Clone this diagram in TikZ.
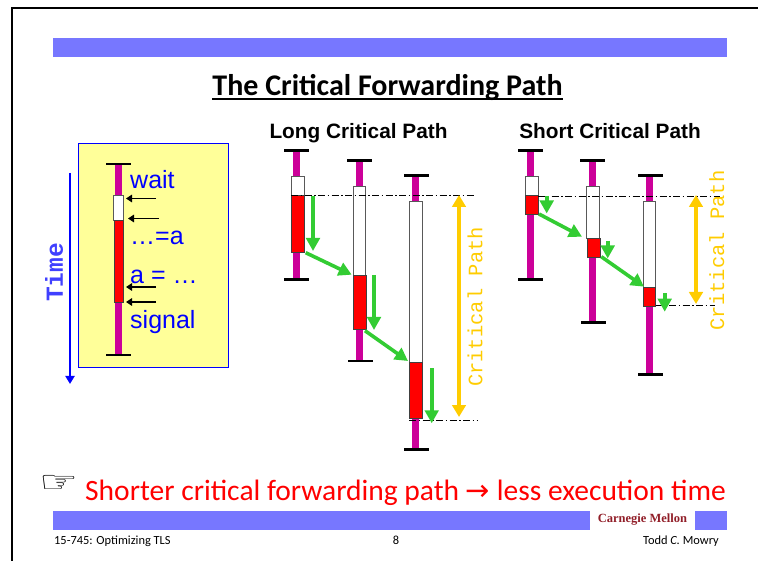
\documentclass[tikz,border=0pt]{standalone}
\usepackage{fontspec}
\setmainfont{Liberation Sans}
\newfontfamily\comicfont{Carlito}
\newfontfamily\typefont{Liberation Mono}
\newfontfamily\timesfont{Liberation Serif}
\newfontfamily\symbfont{DejaVu Sans}
\usetikzlibrary{arrows.meta}
\definecolor{barblue}{RGB}{119,119,255}
\definecolor{threadmag}{RGB}{204,0,153}
\definecolor{notepad}{RGB}{255,255,153}
\definecolor{pathgold}{RGB}{255,204,0}
\definecolor{flowgreen}{RGB}{51,204,51}
\definecolor{cmured}{RGB}{145,30,40}
\tikzset{
  thread/.style={fill=threadmag},
  capline/.style={line width=2.4pt},
  waitbox/.style={fill=white,draw=black!65,line width=0.8pt},
  runbox/.style={fill=red,draw=black!75,line width=0.8pt},
  flow/.style={flowgreen,line width=3.6pt,-{Triangle[width=13.5pt,length=13pt]}},
  span/.style={pathgold,line width=3.4pt,{Triangle[width=13.5pt,length=12pt]}-{Triangle[width=13.5pt,length=12pt]}},
  guide/.style={line width=0.7pt,dash pattern=on 7pt off 2.5pt on 1.5pt off 2.5pt},
  tick/.style={line width=1.4pt,-{Triangle[width=7.5pt,length=6pt]}},
  sidelabel/.style={blue,anchor=base west,inner sep=0pt,font=\fontsize{25}{25}\selectfont},
  pathlabel/.style={pathgold,rotate=90,inner sep=0pt,font=\fontsize{20.5}{20.5}\selectfont\typefont},
  heading/.style={anchor=base,inner sep=0pt,font=\fontsize{20.8}{20.8}\selectfont\bfseries},
  footer/.style={anchor=base,inner sep=0pt,font=\fontsize{12.4}{12.4}\selectfont\comicfont}
}
\begin{document}
\begin{tikzpicture}[x=1pt,y=-1pt]
    \useasboundingbox (0,0) rectangle (758,561);
    \draw[line width=1.6pt] (12,561) -- (12,8) -- (758,8);
    \fill[barblue] (53,38) rectangle (727,57);
    \fill[barblue] (53,511) rectangle (590,530);
    \fill[barblue] (695,511) rectangle (727,530);
    \node[anchor=base,inner sep=0pt,font=\fontsize{30}{30}\selectfont\comicfont\bfseries] (title) at (387.5,96) {The Critical Forwarding Path};
    \draw[line width=2pt] ([yshift=-3.5pt]title.base west) -- ([yshift=-3.5pt]title.base east);

    \fill[notepad,draw=blue,line width=1pt] (78.5,144) rectangle (228,368);
    \draw[blue,line width=2.4pt,-{Triangle[width=9pt,length=8pt]}] (70,173) -- (70,384);
    \node[blue!75!white,rotate=90,inner sep=0pt,font=\fontsize{24.5}{24.5}\selectfont\typefont\bfseries] (timelabel) at (54,272.5) {Time};
    \fill[thread] (115,164) rectangle (122,355);
    \draw[capline] (106,164) -- (131,164);
    \draw[capline] (106,355) -- (131,355);
    \filldraw[waitbox] (113,195.5) rectangle (123.5,220.5);
    \filldraw[runbox] (114,220.5) rectangle (123.5,302.5);
    \draw[tick] (156,198.5) -- (126,198.5);
    \draw[tick] (159,218.5) -- (128,218.5);
    \draw[tick] (156,287) -- (126,287);
    \draw[tick] (156,302) -- (126,302);
    \node[sidelabel] (wait) at (130,189) {wait};
    \node[sidelabel] (reada) at (130,245) {\ldots=a};
    \node[sidelabel] (writea) at (130,284) {a = \ldots};
    \node[sidelabel] (signal) at (130,329) {signal};

    \node[heading] (longhead) at (358.5,139) {Long Critical Path};
    \fill[thread] (293.3,150) rectangle (300,279);
    \draw[capline] (284,150.5) -- (309,150.5);
    \draw[capline] (284,279.5) -- (309,279.5);
    \filldraw[waitbox] (291.7,176.7) rectangle (304.3,195.7);
    \filldraw[runbox] (291.7,195.7) rectangle (304.3,252);
    \fill[thread] (356.3,160) rectangle (363,361);
    \draw[capline] (347,160.5) -- (372,160.5);
    \draw[capline] (348,361) -- (373,361);
    \filldraw[waitbox] (353,186) rectangle (365.7,275.3);
    \filldraw[runbox] (353,275.3) rectangle (366,329.7);
    \fill[thread] (412.3,175.3) rectangle (419,449.3);
    \draw[capline] (404,175.5) -- (429,175.5);
    \draw[capline] (404,449.5) -- (429,449.5);
    \filldraw[waitbox] (409.3,201.3) rectangle (422.3,362);
    \filldraw[runbox] (409.3,362) rectangle (422.3,418.3);
    \draw[guide] (291,195.7) -- (475,195.7);
    \draw[guide] (409,420) -- (478,420);
    \draw[flow] (313,195.7) -- (313,251);
    \draw[flow] (305.7,252.7) -- (351.7,274.7);
    \draw[flow] (374,275) -- (374,330);
    \draw[flow] (365,330.7) -- (408,361);
    \draw[flow] (431.7,368.3) -- (431.7,423.3);
    \draw[span] (459,195) -- (459,417);
    \node[pathlabel] (longpath) at (475,307) {Critical Path};

    \node[heading] (shorthead) at (610,139) {Short Critical Path};
    \fill[thread] (527,150) rectangle (534,279);
    \draw[capline] (518,150.5) -- (543,150.5);
    \draw[capline] (518,279.5) -- (543,279.5);
    \filldraw[waitbox] (525.3,176.7) rectangle (538,195.7);
    \filldraw[runbox] (525.3,195.7) rectangle (538,214);
    \fill[thread] (589,160) rectangle (596,324);
    \draw[capline] (580,160.5) -- (605,160.5);
    \draw[capline] (581,322.5) -- (606,322.5);
    \filldraw[waitbox] (586.3,186) rectangle (599.3,238.3);
    \filldraw[runbox] (587,238.3) rectangle (600.3,257.3);
    \fill[thread] (646,175.3) rectangle (653,374.3);
    \draw[capline] (638,175.5) -- (663,175.5);
    \draw[capline] (638,374.5) -- (663,374.5);
    \filldraw[waitbox] (643,201.3) rectangle (655.7,287.3);
    \filldraw[runbox] (643,287.3) rectangle (655.7,306.3);
    \draw[guide] (538,196) -- (720,196);
    \draw[guide] (655.7,305.7) -- (715,305.7);
    \draw[flow] (546.7,196) -- (546.7,213.5);
    \draw[flow] (539,214) -- (582,236.7);
    \draw[flow] (607.7,240.7) -- (607.7,258.5);
    \draw[flow] (601.3,256.7) -- (644,286.7);
    \draw[flow] (664.7,293.3) -- (664.7,311.7);
    \draw[span] (696,195) -- (696,304);
    \node[pathlabel] (shortpath) at (716.7,250.5) {Critical Path};

    \node[inner sep=0pt,xscale=1.45,font=\fontsize{30}{30}\selectfont\symbfont] (hand) at (59,484) {☞};
    \node[red,anchor=base west,inner sep=0pt,font=\fontsize{29.5}{29.5}\selectfont\comicfont] (claim) at (85,500) {Shorter critical forwarding path {\symbfont\fontsize{29}{29}\selectfont →} less execution time};
    \node[cmured,inner sep=0pt,font=\fontsize{12.5}{12.5}\selectfont\timesfont\bfseries] (cmu) at (642.5,520) {Carnegie Mellon};
    \node[footer,anchor=base west] (course) at (54,544) {15-745: Optimizing TLS};
    \node[footer] (page) at (396,544) {8};
    \node[footer,anchor=base east] (lecturer) at (719,544) {Todd \textit{C.} Mowry};
\end{tikzpicture}
\end{document}
